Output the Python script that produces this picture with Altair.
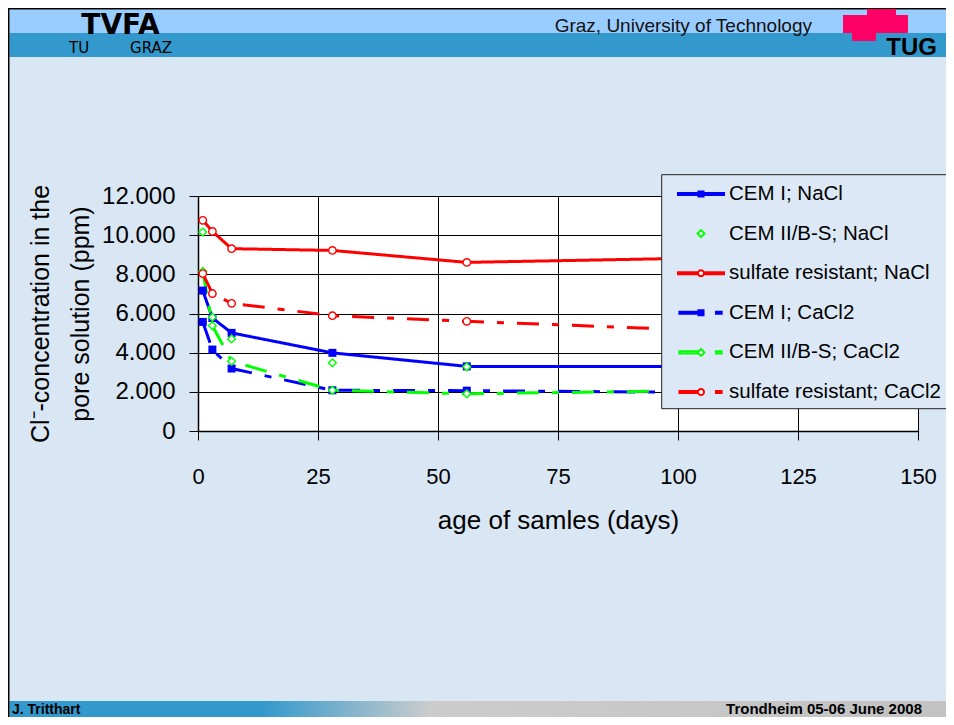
import altair as alt
import pandas as pd

# ---------------- data ----------------
days = [1, 3, 7, 28, 56, 120]
series_names = ["CEM I; NaCl", "CEM II/B-S; NaCl", "sulfate resistant; NaCl",
                "CEM I; CaCl2", "CEM II/B-S; CaCl2", "sulfate resistant; CaCl2"]
cem1_nacl = [7170, 5770, 5010, 3990, 3300, 3300]
cem2_nacl = [10160, 5810, 4700, 3480, 3280]
sr_nacl = [10760, 10190, 9310, 9220, 8610, 8900]
cem1_cacl2 = [5570, 4160, 3190, 2080, 2060, 1940]
cem2_cacl2 = [8150, 5380, 3560, 2080, 1900, 2110]
sr_cacl2 = [8040, 7020, 6520, 5890, 5600, 5000]
x_ticks = [0, 25, 50, 75, 100, 125, 150]
y_ticks = [0, 2000, 4000, 6000, 8000, 10000, 12000]

series_values = [cem1_nacl, cem2_nacl, sr_nacl, cem1_cacl2, cem2_cacl2, sr_cacl2]
series_colors = ["#0000ff", "#00ff00", "#ff0000", "#0000ff", "#00ff00", "#ff0000"]
series_fills = ["#0000ff", "#ffffff", "#ffffff", "#0000ff", "#ffffff", "#ffffff"]
solid = [1, 0]
dashdot = [22, 13, 7, 13]
series_dash = [solid, solid, solid, dashdot, dashdot, dashdot]

rows = []
for name, vals in zip(series_names, series_values):
    for d, v in zip(days, vals):
        rows.append({"day": d, "value": v, "series": name})
df = pd.DataFrame(rows)
legend_df = pd.DataFrame({"series": series_names})

FONT = "Liberation Sans"
BG = "#d9e6f4"


# ---------------- legend symbols (line + marker, as drawn in the source) -------------
def bar(x0, x1, h=0.045):
    return f"M{x0},{-h}H{x1}V{h}H{x0}Z"


def sq(s=0.11):
    return f"M{-s},{-s}H{s}V{s}H{-s}Z"


def circ(r=0.13):
    return f"M{r},0A{r},{r} 0 1,1 {-r},0A{r},{r} 0 1,1 {r},0Z"


def dia(r=0.15):
    return f"M0,{-r}L{r},0L0,{r}L{-r},0Z"


legend_paths = [
    bar(-1, 1) + sq(),
    dia(),
    bar(-1, -0.13) + bar(0.13, 1) + circ(),
    bar(-0.94, 0) + sq() + bar(0.65, 0.9),
    bar(-0.94, -0.15) + dia() + bar(0.65, 0.9),
    bar(-0.94, -0.13) + circ() + bar(0.65, 0.9),
]

# ---------------- scales / axes ----------------
x_enc = alt.X(
    "day:Q",
    scale=alt.Scale(domain=[0, 150], nice=False),
    axis=alt.Axis(
        values=x_ticks, grid=True, gridColor="#000000", gridWidth=1,
        domainColor="#000000", domainWidth=1.5, tickColor="#000000", tickSize=9,
        labelFont=FONT, labelFontSize=22, labelColor="#000000", labelBaseline="alphabetic",
        labelPadding=43, labelFlush=False, labelOverlap=False,
        title="age of samles (days)", titleFont=FONT, titleFontSize=26,
        titleFontWeight="normal", titleColor="#000000", titleX=360, titleY=97,
        titleBaseline="alphabetic", titleAlign="center",
    ),
)
y_enc = alt.Y(
    "value:Q",
    scale=alt.Scale(domain=[0, 12000], nice=False),
    axis=alt.Axis(
        values=y_ticks, grid=True, gridColor="#000000", gridWidth=1,
        domainColor="#000000", domainWidth=1.5, tickColor="#000000", tickSize=9,
        labelFont=FONT, labelFontSize=24, labelColor="#000000", labelPadding=14,
        labelExpr="replace(format(datum.value, ','), ',', '.')",
        title=["Cl\u207b-concentration in the", "pore solution (ppm)"],
        titleFont=FONT, titleFontSize=25, titleFontWeight="normal", titleColor="#000000",
        titleLineHeight=40, titleX=-150, titleY=117.5, titleAngle=270,
        titleBaseline="alphabetic", titleAlign="center",
    ),
)

color_scale = alt.Scale(domain=series_names, range=series_colors)
base = alt.Chart(df).encode(x=x_enc, y=y_enc)

lines = base.transform_filter(
    alt.datum.series != "CEM II/B-S; NaCl"
).mark_line(strokeWidth=3).encode(
    color=alt.Color("series:N", scale=color_scale, legend=None),
    strokeDash=alt.StrokeDash("series:N", scale=alt.Scale(domain=series_names, range=series_dash), legend=None),
)

squares = base.transform_filter(
    alt.FieldOneOfPredicate(field="series", oneOf=["CEM I; NaCl", "CEM I; CaCl2"])
).mark_point(shape="square", filled=True, size=64, opacity=1).encode(
    color=alt.Color("series:N", scale=color_scale, legend=None)
)
diamonds = base.transform_filter(
    alt.FieldOneOfPredicate(field="series", oneOf=["CEM II/B-S; NaCl", "CEM II/B-S; CaCl2"])
).mark_point(shape="diamond", filled=False, fill="#ffffff", size=60, strokeWidth=1.4, opacity=1).encode(
    color=alt.Color("series:N", scale=color_scale, legend=None)
)
circles = base.transform_filter(
    alt.FieldOneOfPredicate(field="series", oneOf=["sulfate resistant; NaCl", "sulfate resistant; CaCl2"])
).mark_point(shape="circle", filled=False, fill="#ffffff", size=55, strokeWidth=1.4, opacity=1).encode(
    color=alt.Color("series:N", scale=color_scale, legend=None)
)

data_layer = alt.layer(lines, squares, diamonds, circles)

# ---------------- slide decoration (header / footer) ----------------
dummy = pd.DataFrame({"k": [0]})


def rect(x, x2, y, y2, fill, stroke=None):
    kw = {"fill": fill}
    if stroke:
        kw.update(stroke=stroke, strokeWidth=1)
    return alt.Chart(dummy).mark_rect(**kw).encode(
        x=alt.value(x), x2=alt.value(x2), y=alt.value(y), y2=alt.value(y2))


def label(text, x, y, size, align="left", weight="normal", font=FONT, color="#000000"):
    return alt.Chart(dummy).mark_text(
        text=text, fontSize=size, align=align, baseline="alphabetic",
        font=font, fontWeight=weight, color=color,
    ).encode(x=alt.value(x), y=alt.value(y))


# ---------------- legend (box, symbols and labels on their own row scale) ----------------
leg_y = alt.Y("series:N", scale=alt.Scale(type="point", domain=series_names, range=[-2, 196], padding=0), axis=None)
legend_box = rect(463.7, 760, -21.3, 212.7, "#dce8f5", stroke="#222222")
legend_symbols = alt.Chart(legend_df).mark_point(filled=True, size=2116, strokeWidth=2, opacity=1).encode(
    x=alt.value(503),
    y=leg_y,
    shape=alt.Shape("series:N", scale=alt.Scale(domain=series_names, range=legend_paths), legend=None),
    stroke=alt.Stroke("series:N", scale=alt.Scale(domain=series_names, range=series_colors), legend=None),
    fill=alt.Fill("series:N", scale=alt.Scale(domain=series_names, range=series_fills), legend=None),
)
legend_labels = alt.Chart(legend_df).mark_text(
    align="left", baseline="middle", font=FONT, fontSize=20.5, color="#000000"
).encode(x=alt.value(531), y=leg_y, text="series:N")

footer_grad = {
    "gradient": "linear", "x1": 0, "x2": 1, "y1": 0, "y2": 0,
    "stops": [
        {"offset": 0, "color": "#3399cc"},
        {"offset": 0.27, "color": "#3399cc"},
        {"offset": 0.45, "color": "#cccccc"},
        {"offset": 1, "color": "#c2c2c2"},
    ],
}

decor = [
    rect(-188.5, 748, -186.5, -163, "#99ccff"),
    rect(-188.5, 748, -163, -139, "#3399cc"),
    rect(-190, 748, -188, -186.5, "#000000"),
    rect(-188.5, 748, 505, 521, footer_grad),
    rect(-190, -188.5, -188, 521, "#000000"),
    # TUG logo
    rect(669, 698, -187, -181, "#ff0066"),
    rect(645, 710, -181, -163, "#ff0066"),
    rect(654, 678, -163, -155, "#ff0066"),
    label("TUG", 739, -141, 24, align="right", weight="bold"),
    label("TVFA", -77.5, -162, 28, align="center", weight="bold", font="DejaVu Sans"),
    label("TU", -129, -143, 15, font="DejaVu Sans"),
    label("GRAZ", -26, -143, 15, align="right", font="DejaVu Sans"),
    label("Graz, University of Technology", 614, -164, 19, align="right", color="#111111"),
    label("J. Tritthart", -186, 518, 14, weight="bold"),
    label("Trondheim  05-06 June 2008", 724, 518, 15, align="right", weight="bold"),
]

chart = alt.layer(
    *decor, data_layer, legend_box, legend_symbols, legend_labels
).resolve_scale(
    y="independent"
).properties(
    width=720, height=235,
    padding={"left": 190, "top": 188, "right": 28, "bottom": 286},
    autosize=alt.AutoSizeParams(type="none"),
    background=BG,
).configure_view(fill="#ffffff", stroke="transparent")

chart.save("out.html", embed_options={"renderer": "svg", "actions": False})
